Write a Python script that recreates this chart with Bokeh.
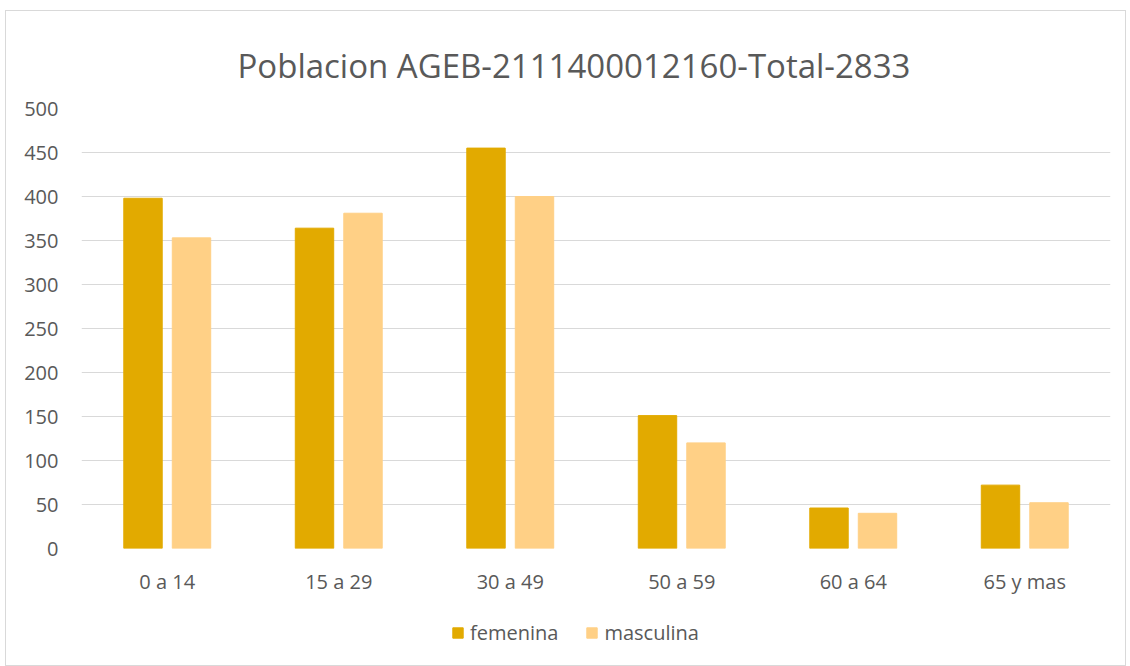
from bokeh.plotting import figure
from bokeh.models import ColumnDataSource, FactorRange, Range1d, Legend, LegendItem, FixedTicker, Title
from bokeh.layouts import column
from bokeh.transform import dodge
from bokeh.embed import file_html
from bokeh.resources import INLINE

categories = ["0 a 14", "15 a 29", "30 a 49", "50 a 59", "60 a 64", "65 y mas"]
femenina = [398, 364, 455, 151, 46, 72]
masculina = [353, 381, 400, 120, 40, 52]
y_ticks = [0, 50, 100, 150, 200, 250, 300, 350, 400, 450, 500]
series_names = ["femenina", "masculina"]
series_keys = ["fem", "masc"]
series_colors = ["#E2AA00", "#FFD086"]
title_text = "Poblacion AGEB-2111400012160-Total-2833"

src = ColumnDataSource(dict(cat=categories, fem=femenina, masc=masculina))

FONT = "Open Sans"
TXT = "#595959"

p = figure(x_range=FactorRange(factors=categories, range_padding=0),
           y_range=Range1d(0, 500),
           frame_width=1029, frame_height=440,
           output_backend="svg", toolbar_location=None)
p.min_border_left = 75
p.min_border_right = 15
p.min_border_top = 97
p.min_border_bottom = 64
p.outline_line_color = None
p.background_fill_color = "white"
p.border_fill_color = "white"

t = Title(text=title_text, align="left", text_font=FONT, text_font_size="33px",
          text_color=TXT, text_font_style="normal", standoff=37, offset=156,
          vertical_align="top")
p.add_layout(t, "above")

p.vbar(x=dodge("cat", -0.1414, range=p.x_range), top="fem", width=0.224,
       source=src, fill_color=series_colors[0], line_color=series_colors[0])
p.vbar(x=dodge("cat", 0.1414, range=p.x_range), top="masc", width=0.224,
       source=src, fill_color=series_colors[1], line_color=series_colors[1])

p.yaxis.ticker = FixedTicker(ticks=y_ticks)
for ax in (p.xaxis[0], p.yaxis[0]):
    ax.axis_line_color = None
    ax.major_tick_line_color = None
    ax.minor_tick_line_color = None
    ax.major_label_text_font = FONT
    ax.major_label_text_font_size = "20px"
    ax.major_label_text_color = TXT
p.yaxis.major_label_standoff = 17
p.xaxis.major_label_standoff = 13

p.xgrid.grid_line_color = None
p.ygrid.grid_line_color = "#D9D9D9"
p.ygrid.grid_line_width = 1

# legend strip below the chart (proxy glyphs fall outside this strip's range)
lg = figure(x_range=Range1d(0, 1), y_range=Range1d(0, 1),
            frame_width=1119, frame_height=53,
            output_backend="svg", toolbar_location=None,
            x_axis_location=None, y_axis_location=None)
lg.min_border = 0
lg.outline_line_color = None
lg.xgrid.grid_line_color = None
lg.ygrid.grid_line_color = None
lg.background_fill_color = "white"
lg.border_fill_color = "white"
items = []
for name, key, col in zip(series_names, series_keys, series_colors):
    r = lg.vbar(x=key, top=key, width=0.2, source=src, fill_color=col, line_color=col)
    items.append(LegendItem(label=name, renderers=[r]))
legend = Legend(items=items, orientation="horizontal", location=(445, 19),
                label_text_font=FONT, label_text_font_size="20px", label_text_color=TXT,
                glyph_width=13, glyph_height=13, spacing=27, label_standoff=6,
                border_line_color=None, background_fill_alpha=0, margin=0, padding=0)
lg.add_layout(legend, "center")

layout = column(p, lg, spacing=0)
layout.styles = {"border": "1px solid #D9D9D9", "margin": "10px 0 0 5px"}

open("out.html", "w").write(file_html(layout, INLINE))
